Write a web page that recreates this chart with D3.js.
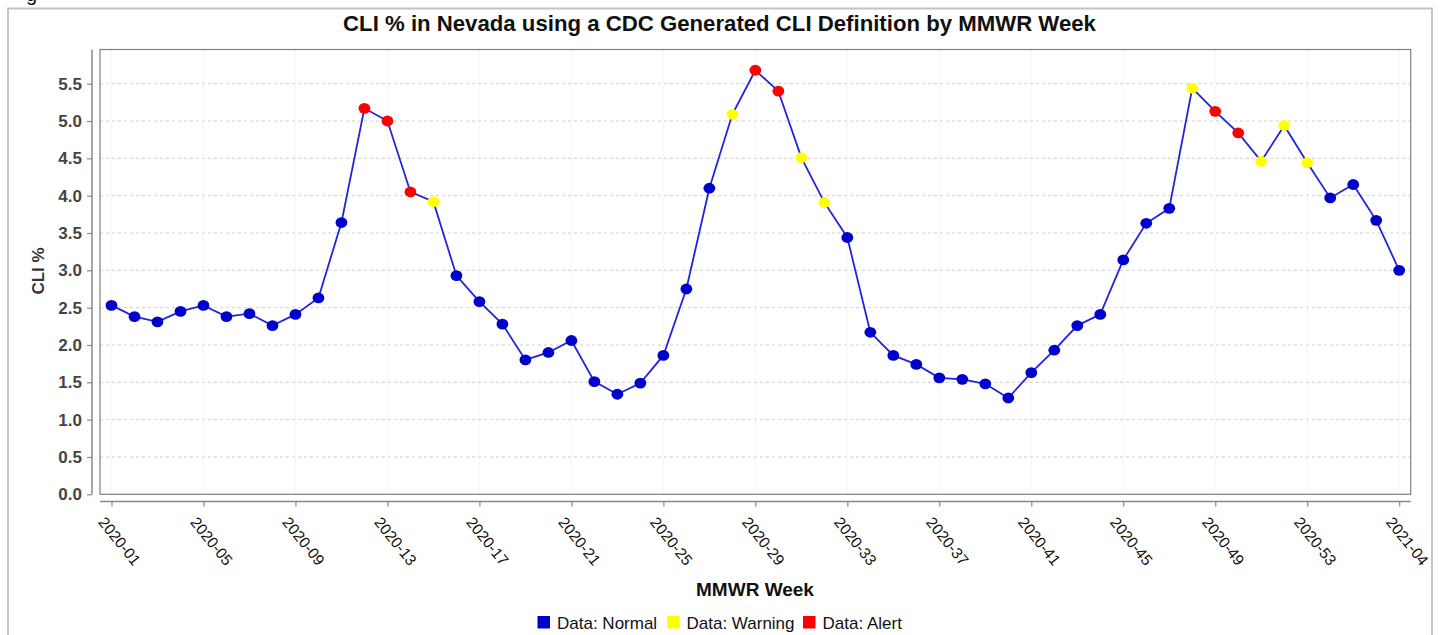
<!DOCTYPE html>
<html>
<head>
<meta charset="utf-8">
<script src="https://cdn.jsdelivr.net/npm/d3@7"></script>
<style>
  html, body { margin: 0; padding: 0; background: #fff; }
  svg { display: block; font-family: "Liberation Sans", Arial, sans-serif; }
</style>
</head>
<body>
<svg id="chart" width="1440" height="635"></svg>
<script>
// ---- Data ----
const weeks = [
  "2020-01","2020-02","2020-03","2020-04","2020-05","2020-06","2020-07","2020-08","2020-09","2020-10",
  "2020-11","2020-12","2020-13","2020-14","2020-15","2020-16","2020-17","2020-18","2020-19","2020-20",
  "2020-21","2020-22","2020-23","2020-24","2020-25","2020-26","2020-27","2020-28","2020-29","2020-30",
  "2020-31","2020-32","2020-33","2020-34","2020-35","2020-36","2020-37","2020-38","2020-39","2020-40",
  "2020-41","2020-42","2020-43","2020-44","2020-45","2020-46","2020-47","2020-48","2020-49","2020-50",
  "2020-51","2020-52","2020-53","2021-01","2021-02","2021-03","2021-04"
];
const cliPercent = [
  2.53, 2.38, 2.31, 2.45, 2.53, 2.38, 2.42, 2.26, 2.41, 2.63,
  3.64, 5.17, 5.00, 4.05, 3.92, 2.93, 2.58, 2.28, 1.80, 1.90,
  2.06, 1.51, 1.34, 1.49, 1.86, 2.75, 4.10, 5.09, 5.68, 5.40,
  4.51, 3.91, 3.44, 2.17, 1.86, 1.74, 1.56, 1.54, 1.48, 1.29,
  1.63, 1.93, 2.26, 2.41, 3.14, 3.63, 3.83, 5.44, 5.13, 4.84,
  4.46, 4.94, 4.44, 3.97, 4.15, 3.67, 3.00
];
const status = [
  "Normal","Normal","Normal","Normal","Normal","Normal","Normal","Normal","Normal","Normal",
  "Normal","Alert","Alert","Alert","Warning","Normal","Normal","Normal","Normal","Normal",
  "Normal","Normal","Normal","Normal","Normal","Normal","Normal","Warning","Alert","Alert",
  "Warning","Warning","Normal","Normal","Normal","Normal","Normal","Normal","Normal","Normal",
  "Normal","Normal","Normal","Normal","Normal","Normal","Normal","Warning","Alert","Alert",
  "Warning","Warning","Warning","Normal","Normal","Normal","Normal"
];
const xTickLabels = ["2020-01","2020-05","2020-09","2020-13","2020-17","2020-21","2020-25","2020-29",
  "2020-33","2020-37","2020-41","2020-45","2020-49","2020-53","2021-04"];
const yTicks = [0.0,0.5,1.0,1.5,2.0,2.5,3.0,3.5,4.0,4.5,5.0,5.5];
const legendItems = ["Normal","Warning","Alert"];
const statusColors = { Normal: "#0000cc", Warning: "#ffff00", Alert: "#ff0000" };

// ---- Layout ----
const svg = d3.select("#chart");
const plot = { left: 100, right: 1410.7, top: 49.5, bottom: 494.3 };

const x = d3.scaleLinear().domain([-0.5, weeks.length - 0.5]).range([plot.left, plot.right]);
const y = d3.scaleLinear().domain([0, 5.958]).range([plot.bottom, plot.top]);

// outer frame
svg.append("rect").attr("x", 8).attr("y", 8.5).attr("width", 1424).attr("height", 640)
  .attr("fill", "none").attr("stroke", "#c4c4c4").attr("stroke-width", 2);

// cropped text fragment at top-left (descender of a cut-off caption)
svg.append("text").attr("x", 26).attr("y", 1).attr("font-size", 20).attr("fill", "#111").text("g");

// title
svg.append("text").attr("x", 719.5).attr("y", 31).attr("text-anchor", "middle")
  .attr("font-size", 22.2).attr("font-weight", "bold").attr("fill", "#111")
  .text("CLI % in Nevada using a CDC Generated CLI Definition by MMWR Week");

// vertical faint grid at tick positions
svg.append("g").selectAll("line").data(xTickLabels).join("line")
  .attr("x1", d => x(weeks.indexOf(d))).attr("x2", d => x(weeks.indexOf(d)))
  .attr("y1", plot.top).attr("y2", plot.bottom)
  .attr("stroke", "#ececec").attr("stroke-width", 1).attr("stroke-dasharray", "2,2");

// horizontal grid
svg.append("g").selectAll("line").data(yTicks.filter(d => d > 0)).join("line")
  .attr("x1", plot.left).attr("x2", plot.right)
  .attr("y1", d => y(d)).attr("y2", d => y(d))
  .attr("stroke", "#cfcfcf").attr("stroke-width", 1).attr("stroke-dasharray", "3,3");

// plot border
svg.append("rect").attr("x", plot.left).attr("y", plot.top)
  .attr("width", plot.right - plot.left).attr("height", plot.bottom - plot.top)
  .attr("fill", "none").attr("stroke", "#808080").attr("stroke-width", 1.2);

// y axis (offset)
const yAxis = d3.axisLeft(y).tickValues(yTicks).tickFormat(d3.format(".1f")).tickSize(5).tickPadding(5);
const gy = svg.append("g").attr("transform", `translate(92,0)`).call(yAxis);
gy.select(".domain").attr("stroke", "#888").attr("stroke-width", 1.5).attr("d", `M0,${plot.top}V${plot.bottom}`);
gy.selectAll(".tick line").attr("stroke", "#888").attr("stroke-width", 1.2);
gy.selectAll(".tick text").attr("font-size", 17).attr("font-weight", "bold").attr("fill", "#444")
  .attr("font-family", "Liberation Sans, Arial, sans-serif");

// x axis (offset)
const xAxis = d3.axisBottom(x).tickValues(xTickLabels.map(d => weeks.indexOf(d)))
  .tickFormat(i => weeks[i]).tickSize(5).tickPadding(0);
const gx = svg.append("g").attr("transform", `translate(0,501.5)`).call(xAxis);
gx.select(".domain").attr("stroke", "#888").attr("stroke-width", 1.5).attr("d", `M${plot.left},0H${plot.right}`);
gx.selectAll(".tick line").attr("stroke", "#888").attr("stroke-width", 1.2);
gx.selectAll(".tick text")
  .attr("font-size", 15.5).attr("fill", "#111").attr("font-family", "Liberation Sans, Arial, sans-serif")
  .attr("text-anchor", "start").attr("dy", null).attr("y", null)
  .attr("transform", "translate(-14.5,21) rotate(51)");

// axis titles
svg.append("text").attr("transform", "translate(44,271) rotate(-90)").attr("text-anchor", "middle")
  .attr("font-size", 17).attr("font-weight", "bold").attr("fill", "#333").text("CLI %");
svg.append("text").attr("x", 755).attr("y", 596).attr("text-anchor", "middle")
  .attr("font-size", 19).attr("font-weight", "bold").attr("fill", "#111").text("MMWR Week");

// line
const line = d3.line().x((d, i) => x(i)).y(d => y(d));
svg.append("path").datum(cliPercent).attr("d", line)
  .attr("fill", "none").attr("stroke", "#2323d9").attr("stroke-width", 1.8);

// points
svg.append("g").selectAll("ellipse").data(cliPercent).join("ellipse")
  .attr("cx", (d, i) => x(i)).attr("cy", d => y(d)).attr("rx", 5.9).attr("ry", 5.4)
  .attr("fill", (d, i) => statusColors[status[i]]);

// legend
const legendX = [537.5, 667, 803];
const lg = svg.append("g");
legendItems.forEach((k, i) => {
  lg.append("rect").attr("x", legendX[i]).attr("y", 616).attr("width", 12.5).attr("height", 12.5)
    .attr("fill", statusColors[k]);
  lg.append("text").attr("x", legendX[i] + 19.5).attr("y", 628.5).attr("font-size", 17).attr("fill", "#111")
    .text("Data: " + k);
});
</script>
</body>
</html>
